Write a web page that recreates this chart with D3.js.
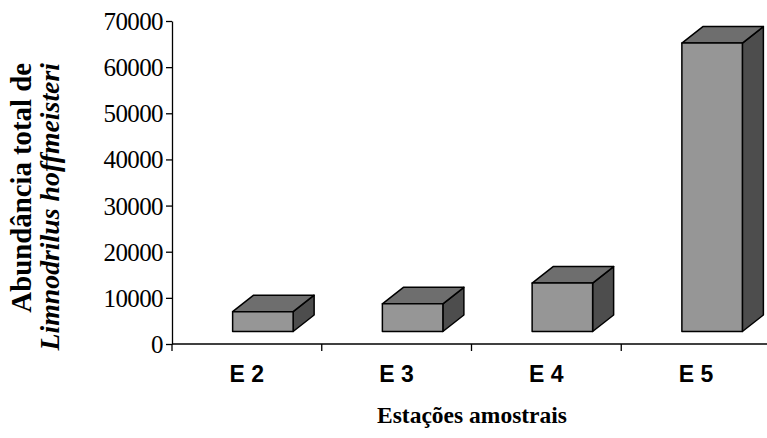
<!DOCTYPE html>
<html>
<head>
<meta charset="utf-8">
<script src="https://cdn.jsdelivr.net/npm/d3@7"></script>
<style>
    body { margin: 0; background: #fff; }
    svg { display: block; }
    .tick text { font-family: "Liberation Serif", "Times New Roman", serif; font-size: 25px; letter-spacing: -0.6px; fill: #000; }
</style>
</head>
<body>
<script>
// 3D-style column chart: abundance per sampling station

const stations = ['E 2', 'E 3', 'E 4', 'E 5'];
const abundance = [4300, 6000, 10500, 62500];
const yTicks = [0, 10000, 20000, 30000, 40000, 50000, 60000, 70000];

const width = 767;
const height = 438;
const margin = { 'top': 21, 'bottom': 94, 'left': 172, 'right': -4 };

// oblique offsets: where the bar front sits on the floor, and the bar depth
const floorShift = { 'x': 16, 'y': -12.5 };
const depth = { 'x': 21, 'y': -16.5 };

const svg = d3.select('body').append('svg')
    .attr('width', width)
    .attr('height', height);

const xScale = d3.scaleBand()
    .domain(stations)
    .range([margin.left, width - margin.right])
    .paddingInner(0)
    .paddingOuter(0);

const yScale = d3.scaleLinear()
    .domain([0, 70000])
    .range([height - margin.bottom, margin.top]);

const barW = 60.5;
const y0 = yScale(0);

// y axis
svg.append('g')
    .attr('class', 'axis')
    .attr('transform', 'translate(' + margin.left + ',0)')
    .call(d3.axisLeft(yScale).tickValues(yTicks).tickFormat(d3.format('d')).tickSize(6).tickSizeOuter(0).tickPadding(3))
    .call(g => g.select('.domain').attr('stroke', '#000').attr('stroke-width', 1.3))
    .call(g => g.selectAll('.tick line').attr('stroke', '#000').attr('stroke-width', 1.3))
    .call(g => g.selectAll('.tick text').attr('dy', '0.34em'));

// x axis line and category boundary ticks
svg.append('line')
    .attr('x1', margin.left)
    .attr('x2', width - margin.right)
    .attr('y1', y0)
    .attr('y2', y0)
    .attr('stroke', '#000')
    .attr('stroke-width', 1.3);

const bounds = d3.range(stations.length + 1).map(i => xScale.range()[0] + i * xScale.step());
svg.append('g')
    .selectAll('line')
    .data(bounds)
    .enter()
    .append('line')
    .attr('x1', d => d)
    .attr('x2', d => d)
    .attr('y1', y0)
    .attr('y2', y0 + 7)
    .attr('stroke', '#000')
    .attr('stroke-width', 1.3);

// category labels
svg.append('g')
    .selectAll('text')
    .data(stations)
    .enter()
    .append('text')
    .attr('x', d => xScale(d) + xScale.bandwidth() / 2)
    .attr('y', 382)
    .attr('text-anchor', 'middle')
    .style('font-family', '"Liberation Sans", Arial, sans-serif')
    .style('font-weight', 'bold')
    .style('font-size', '23px')
    .text(d => d);

// bars
const bars = svg.append('g')
    .attr('id', 'bars')
    .selectAll('g')
    .data(stations.map((s, i) => ({ 'station': s, 'value': abundance[i] })))
    .enter()
    .append('g');

function geom(d) {
    let x1 = xScale(d.station) + xScale.bandwidth() / 2 + floorShift.x - barW / 2;
    let x2 = x1 + barW;
    let yb = y0 + floorShift.y;
    let yt = yScale(d.value) + floorShift.y;
    return { x1, x2, yb, yt };
}

function poly(pts) {
    return 'M' + pts.map(p => p[0] + ',' + p[1]).join('L') + 'Z';
}

bars.append('path')
    .attr('d', d => {
        let g = geom(d);
        return poly([[g.x2, g.yb], [g.x2 + depth.x, g.yb + depth.y], [g.x2 + depth.x, g.yt + depth.y], [g.x2, g.yt]]);
    })
    .attr('fill', '#4d4d4d')
    .attr('stroke', '#000')
    .attr('stroke-width', 1.5)
    .attr('stroke-linejoin', 'round');

bars.append('path')
    .attr('d', d => {
        let g = geom(d);
        return poly([[g.x1, g.yt], [g.x1 + depth.x, g.yt + depth.y], [g.x2 + depth.x, g.yt + depth.y], [g.x2, g.yt]]);
    })
    .attr('fill', '#6e6e6e')
    .attr('stroke', '#000')
    .attr('stroke-width', 1.5)
    .attr('stroke-linejoin', 'round');

bars.append('path')
    .attr('d', d => {
        let g = geom(d);
        return poly([[g.x1, g.yb], [g.x2, g.yb], [g.x2, g.yt], [g.x1, g.yt]]);
    })
    .attr('fill', '#969696')
    .attr('stroke', '#000')
    .attr('stroke-width', 1.5)
    .attr('stroke-linejoin', 'round');

// axis titles
svg.append('text')
    .attr('x', 472)
    .attr('y', 423)
    .attr('text-anchor', 'middle')
    .style('font-family', '"Liberation Serif", "Times New Roman", serif')
    .style('font-weight', 'bold')
    .style('font-size', '23.5px')
    .text('Estações amostrais');

const yTitle = svg.append('text')
    .attr('transform', 'rotate(-90)')
    .attr('text-anchor', 'end')
    .style('font-family', '"Liberation Serif", "Times New Roman", serif')
    .style('font-weight', 'bold');

yTitle.append('tspan')
    .attr('x', -63)
    .attr('y', 31)
    .style('font-size', '28.8px')
    .text('Abundância total de');

yTitle.append('tspan')
    .attr('x', -63)
    .attr('y', 59)
    .style('font-size', '27.8px')
    .style('font-style', 'italic')
    .text('Limnodrilus hoffmeisteri');
</script>
</body>
</html>
